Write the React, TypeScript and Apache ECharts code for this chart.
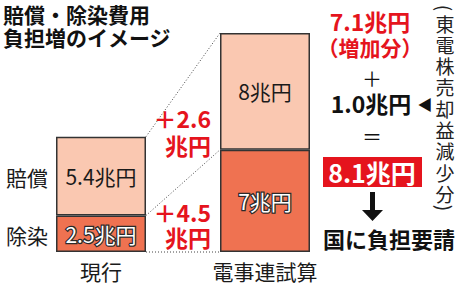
import React, { useEffect, useRef } from 'react';
import * as echarts from 'echarts';

const categories = ['現行', '電事連試算'];
const decontamination = [2.5, 7]; // 除染
const compensation = [5.4, 8]; // 賠償
const totals = [7.9, 15];
const increases = ['＋2.6', '＋4.5'];
const rowLabels = ['賠償', '除染'];
const titleLines = ['賠償・除染費用', '負担増のイメージ'];
const increaseTotal = '7.1兆円';
const increaseNote = '（増加分）';
const stockLoss = '1.0兆円';
const requestTotal = '8.1兆円';
const requestText = '国に負担要請';
const sideNote = '東電株売却益減少分';

const FONT = '"Noto Sans CJK JP", "Noto Sans", sans-serif';
const RED = '#e5141d';
const LIGHT = '#fac8b1';
const DARK = '#ef7251';
const EDGE = '#333333';
const BAR_W = 90;

export default function App() {
  const ref = useRef<HTMLDivElement>(null);
  useEffect(() => {
    if (!ref.current) return;
    const chart = echarts.init(ref.current, null, { renderer: 'svg' });
    chart.setOption({
      animation: false,
      backgroundColor: '#ffffff',
      textStyle: { fontFamily: FONT },
      grid: { left: 19, right: 122, top: 33, bottom: 33 },
      xAxis: {
        type: 'category',
        data: categories,
        axisLine: { show: false },
        axisTick: { show: false },
        axisLabel: { fontSize: 21, color: '#1a1a1a', margin: 8, fontFamily: FONT, lineHeight: 21 },
      },
      yAxis: { type: 'value', min: 0, max: 15, show: false, splitLine: { show: false } },
      series: [
        {
          name: '除染',
          type: 'bar',
          stack: 'total',
          barWidth: BAR_W,
          data: decontamination,
          itemStyle: { color: DARK, borderColor: EDGE, borderWidth: 1.5 },
          label: {
            show: true,
            position: 'inside',
            formatter: (p: any) => `${p.value}兆円`,
            fontSize: 21,
            lineHeight: 21,
            color: '#ffffff',
            textBorderColor: '#2a2a2a',
            textBorderWidth: 2.5,
            fontFamily: FONT,
          },
        },
        {
          name: '賠償',
          type: 'bar',
          stack: 'total',
          barWidth: BAR_W,
          data: compensation,
          itemStyle: { color: LIGHT, borderColor: EDGE, borderWidth: 1.5 },
          label: {
            show: true,
            position: 'inside',
            formatter: (p: any) => `${p.value}兆円`,
            fontSize: 21,
            lineHeight: 21,
            color: '#1a1a1a',
            fontFamily: FONT,
          },
        },
        {
          name: '合計',
          type: 'scatter',
          data: totals.map((v, i) => [i, v]),
          symbolSize: 1,
          itemStyle: { opacity: 0 },
          label: {
            show: true,
            position: 'top',
            distance: 5,
            formatter: (p: any) => `${p.value[1]}兆円`,
            fontSize: 21,
            lineHeight: 21,
            color: '#1a1a1a',
            fontFamily: FONT,
          },
        },
      ],
    });

    const px = (i: number, v: number) =>
      chart.convertToPixel({ xAxisIndex: 0, yAxisIndex: 0 }, [i, v]) as number[];
    const h = BAR_W / 2;
    const a0 = px(0, totals[0]);
    const a1 = px(1, totals[1]);
    const b0 = px(0, decontamination[0]);
    const b1 = px(1, decontamination[1]);
    const c0 = px(0, 0);
    const c1 = px(1, 0);
    const dotted = (x1: number, y1: number, x2: number, y2: number) => ({
      type: 'line',
      shape: { x1, y1, x2, y2 },
      style: { stroke: '#444', lineWidth: 1, lineDash: [1, 2] },
      z: 1,
    });
    const txt = (x: number, y: number, text: string, opts: any = {}, extra: any = {}) => {
      const fs = opts.fontSize ?? 21;
      return {
        type: 'text',
        x,
        y,
        style: {
          text,
          fontFamily: FONT,
          fontSize: fs,
          lineHeight: fs,
          fill: '#1a1a1a',
          align: 'center',
          verticalAlign: 'middle',
          ...opts,
        },
        z: 10,
        ...extra,
      };
    };

    const graphics: any[] = [
      dotted(a0[0] + h, a0[1], a1[0] - h, a1[1]),
      dotted(b0[0] + h, b0[1], b1[0] - h, b1[1]),
      dotted(c0[0] + h, c0[1], c1[0] - h, c1[1]),
      // title
      txt(3, 14, titleLines[0], { align: 'left', fontWeight: 'bold', fontSize: 21, fill: '#111' }),
      txt(3, 37, titleLines[1], { align: 'left', fontWeight: 'bold', fontSize: 21, fill: '#111' }),
      // row labels
      txt(27, (a0[1] + b0[1]) / 2 + 1, rowLabels[0], { fontSize: 21 }),
      txt(27, (b0[1] + c0[1]) / 2 + 1, rowLabels[1], { fontSize: 21 }),
      // increases
      txt(211, 118, increases[0], { align: 'right', fontWeight: 'bold', fontSize: 23, fill: RED }),
      txt(211, 145, '兆円', { align: 'right', fontWeight: 'bold', fontSize: 23, fill: RED }),
      txt(211, 212, increases[1], { align: 'right', fontWeight: 'bold', fontSize: 23, fill: RED }),
      txt(211, 237, '兆円', { align: 'right', fontWeight: 'bold', fontSize: 23, fill: RED }),
      // right column
      txt(370, 21, increaseTotal, { fontWeight: 'bold', fontSize: 23, fill: RED }),
      txt(370, 47, increaseNote, { fontWeight: 'bold', fontSize: 21, fill: RED }),
      txt(372, 78, '＋', { fontSize: 20, fill: '#111' }),
      txt(371, 103, stockLoss, { fontWeight: 'bold', fontSize: 23, fill: '#111' }),
      txt(425, 103, '◀', { fontSize: 15, fill: '#111' }),
      txt(372, 136, '＝', { fontSize: 20, fill: '#111' }),
      {
        type: 'rect',
        shape: { x: 323, y: 157, width: 99, height: 30 },
        style: { fill: RED },
        z: 5,
      },
      txt(372, 172, requestTotal, { fontWeight: 'bold', fontSize: 25, fill: '#ffffff' }),
      {
        type: 'polygon',
        shape: {
          points: [
            [370, 192],
            [375, 192],
            [375, 210],
            [383, 210],
            [372.5, 221],
            [362, 210],
            [370, 210],
          ],
        },
        style: { fill: '#111' },
        z: 5,
      },
      txt(389, 238, requestText, { fontWeight: 'bold', fontSize: 22, fill: '#111' }),
      // vertical side note
      txt(445, 8, '(', { fontSize: 19, fill: '#222' }, { rotation: -Math.PI / 2 }),
      ...sideNote.split('').map((ch, i) => txt(445, 23 + 21.3 * i, ch, { fontSize: 19, fill: '#222' })),
      txt(445, 208, ')', { fontSize: 19, fill: '#222' }, { rotation: -Math.PI / 2 }),
    ];
    chart.setOption({ graphic: graphics });
    return () => chart.dispose();
  }, []);
  return (
    <div
      ref={ref}
      style={{ position: 'fixed', left: 0, top: 0, width: 469, height: 285, background: '#fff' }}
    />
  );
}
